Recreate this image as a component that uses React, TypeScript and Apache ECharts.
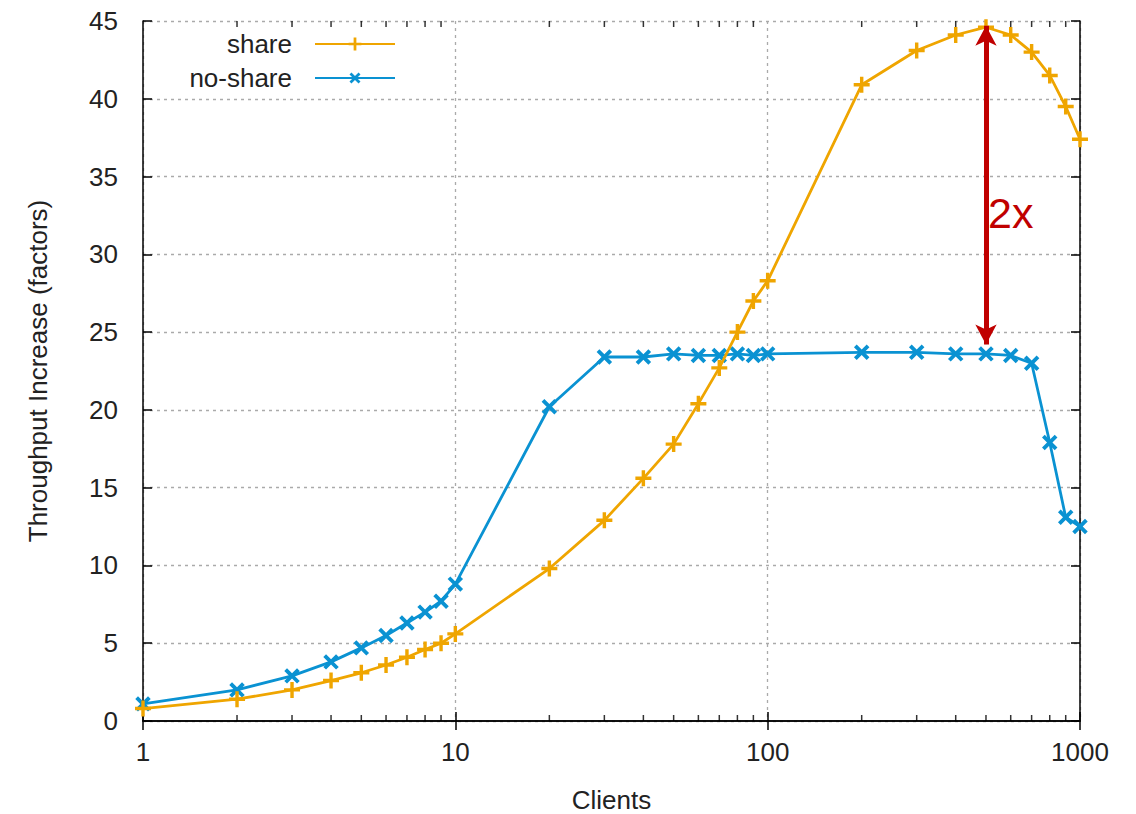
import React, { useEffect, useRef } from "react";
import * as echarts from "echarts";

const clients = [1, 2, 3, 4, 5, 6, 7, 8, 9, 10, 20, 30, 40, 50, 60, 70, 80, 90, 100, 200, 300, 400, 500, 600, 700, 800, 900, 1000];
const shareValues = [0.8, 1.4, 2.0, 2.6, 3.1, 3.6, 4.1, 4.6, 5.0, 5.6, 9.8, 12.9, 15.6, 17.8, 20.4, 22.7, 25.0, 27.0, 28.3, 40.9, 43.1, 44.1, 44.6, 44.1, 43.0, 41.5, 39.5, 37.4];
const noShareValues = [1.1, 2.0, 2.9, 3.8, 4.7, 5.5, 6.3, 7.0, 7.7, 8.8, 20.2, 23.4, 23.4, 23.6, 23.5, 23.5, 23.6, 23.5, 23.6, 23.7, 23.7, 23.6, 23.6, 23.5, 23.0, 17.9, 13.1, 12.5];
const minorTickValues = [2, 3, 4, 5, 6, 7, 8, 9, 20, 30, 40, 50, 60, 70, 80, 90, 200, 300, 400, 500, 600, 700, 800, 900];
const yMin = 0;
const yMax = 45;
const arrowX = 500;
const arrowTop = 44.7;
const arrowBottom = 24.2;
const arrowLabel = "2x";

const FONT = "Liberation Sans";
const FS = 26;
const TEXT = "#222";
const ORANGE = "#EFA500";
const BLUE = "#0A92D2";
const RED = "#C00000";
const PLUS = "path://M-1.5,-7H1.5V-1.5H7V1.5H1.5V7H-1.5V1.5H-7V-1.5H-1.5Z";

export default function App() {
  const ref = useRef<HTMLDivElement>(null);
  useEffect(() => {
    const chart = echarts.init(ref.current!, null, { renderer: "svg" });
    const shareData = clients.map((c, i) => [c, shareValues[i]]);
    const noShareData = clients.map((c, i) => [c, noShareValues[i]]);
    const dashed = { show: true, lineStyle: { color: "#aaaaaa", type: [3, 4], width: 1.3 } };
    const axisLineStyle = { color: "#000", width: 1.5 };
    const minorSeries = (y: number, offset: number) => ({
      type: "scatter",
      xAxisIndex: 0,
      yAxisIndex: 0,
      silent: true,
      clip: false,
      data: minorTickValues.map((v) => [v, y]),
      symbol: "rect",
      symbolSize: [1.5, 6],
      symbolOffset: [0, offset],
      itemStyle: { color: "#000" },
      z: 1,
    });
    const legendCommon = {
      orient: "vertical",
      align: "right",
      right: 735,
      itemWidth: 80,
      itemHeight: 16,
      textStyle: { fontSize: FS, color: TEXT, fontFamily: FONT, padding: [0, 18, 0, 0] },
    };
    chart.setOption({
      animation: false,
      backgroundColor: "#ffffff",
      textStyle: { fontFamily: FONT },
      grid: { left: 143, right: 56, top: 21, bottom: 93, outerBoundsMode: "none" },
      legend: [
        { ...legendCommon, data: ["share"], top: 26 },
        { ...legendCommon, data: ["no-share"], top: 60 },
      ],
      xAxis: [
        {
          type: "log",
          logBase: 10,
          min: 1,
          max: 1000,
          position: "bottom",
          name: "Clients",
          nameLocation: "middle",
          nameGap: 66,
          nameTextStyle: { fontSize: FS, color: TEXT, fontFamily: FONT },
          axisLine: { show: true, lineStyle: axisLineStyle },
          axisTick: { show: true, inside: true, length: 9, lineStyle: axisLineStyle },
          axisLabel: { fontSize: FS, color: TEXT, margin: 18, fontFamily: FONT, formatter: (v: number) => String(v) },
          splitLine: dashed,
        },
        {
          type: "log",
          logBase: 10,
          min: 1,
          max: 1000,
          position: "top",
          axisLine: { show: true, lineStyle: axisLineStyle },
          axisTick: { show: true, inside: true, length: 9, lineStyle: axisLineStyle },
          axisLabel: { show: false },
          splitLine: { show: false },
        },
      ],
      yAxis: [
        {
          type: "value",
          min: yMin,
          max: yMax,
          interval: 5,
          position: "left",
          name: "Throughput Increase (factors)",
          nameLocation: "middle",
          nameGap: 92,
          nameRotate: 90,
          nameTextStyle: { fontSize: FS, color: TEXT, fontFamily: FONT },
          axisLine: { show: true, lineStyle: axisLineStyle },
          axisTick: { show: true, inside: true, length: 9, lineStyle: axisLineStyle },
          axisLabel: { fontSize: FS, color: TEXT, margin: 25, fontFamily: FONT },
          splitLine: dashed,
        },
        {
          type: "value",
          min: yMin,
          max: yMax,
          interval: 5,
          position: "right",
          axisLine: { show: true, lineStyle: axisLineStyle },
          axisTick: { show: true, inside: true, length: 9, lineStyle: axisLineStyle },
          axisLabel: { show: false },
          splitLine: { show: false },
        },
      ],
      series: [
        minorSeries(yMin, -3),
        minorSeries(yMax, 3),
        {
          name: "share",
          type: "line",
          xAxisIndex: 0,
          yAxisIndex: 0,
          data: shareData,
          symbol: PLUS,
          symbolSize: 16,
          showAllSymbol: true,
          lineStyle: { color: ORANGE, width: 2.8 },
          itemStyle: { color: ORANGE },
          z: 3,
          markLine: {
            silent: true,
            symbol: ["arrow", "arrow"],
            symbolSize: [16, 20],
            label: { show: false },
            lineStyle: { color: RED, width: 5, type: "solid" },
            data: [[{ coord: [arrowX, arrowTop] }, { coord: [arrowX, arrowBottom] }]],
          },
        },
        {
          name: "no-share",
          type: "line",
          xAxisIndex: 0,
          yAxisIndex: 0,
          data: noShareData,
          symbol: PLUS,
          symbolRotate: 45,
          symbolSize: 18,
          showAllSymbol: true,
          lineStyle: { color: BLUE, width: 2.8 },
          itemStyle: { color: BLUE },
          z: 2,
        },
      ],
      graphic: [
        {
          type: "text",
          left: 988,
          top: 191,
          style: { text: arrowLabel, fill: RED, fontSize: 43, fontFamily: FONT },
        },
      ],
    });
    return () => chart.dispose();
  }, []);
  return <div ref={ref} style={{ position: "absolute", left: 0, top: 0, width: 1136, height: 814 }} />;
}
